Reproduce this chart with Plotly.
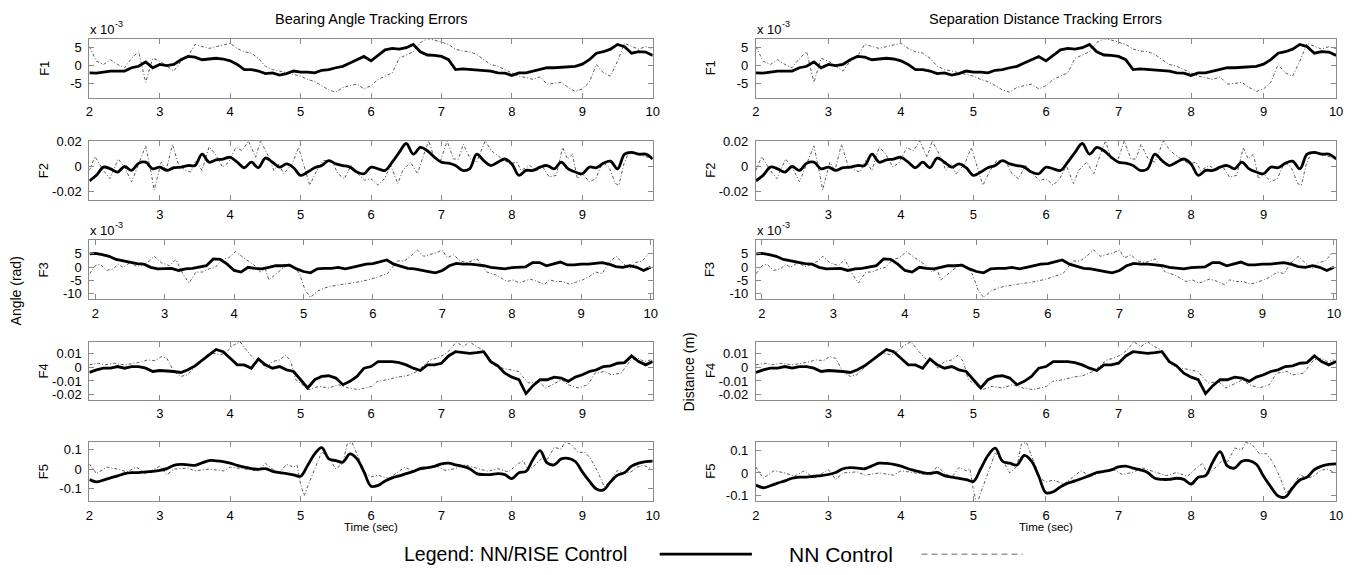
import plotly.graph_objects as go

# window is 1364x575; the page body has an 8px default margin, so the figure is drawn 8px in
W, H = 1364, 575
OFF = 8
FW, FH = W - 2 * OFF, H - 2 * OFF

# ---------------- data ----------------
# regular reading grid, seconds
GRID = [round(2.0 + 0.1 * i, 1) for i in range(81)]

# F1 (units of 1e-3 rad / m)
F1_RISE = [-2.0, -2.1, -1.8, -1.5, -1.5, -1.5, -0.6, -0.2, 1.0, -0.6,
           0.3, 0.0, 0.3, 1.6, 2.5, 2.3, 1.6, 1.8, 2.0, 1.8,
           1.3, 0.3, -1.1, -1.1, -1.5, -2.2, -2.0, -2.6, -2.2, -1.5,
           -1.8, -1.8, -2.0, -1.3, -1.1, -0.6, -0.2, 0.7, 1.5, 2.5,
           1.3, 2.9, 4.3, 4.7, 4.5, 4.9, 5.8, 3.8, 2.9, 2.8,
           2.5, 1.6, -1.1, -0.9, -1.1, -1.2, -1.3, -1.5, -2.0, -2.1,
           -2.7, -2.0, -2.0, -1.5, -1.1, -0.6, -0.6, -0.4, -0.2, -0.2,
           0.4, 1.6, 3.4, 3.8, 4.5, 5.8, 5.2, 3.4, 3.8, 3.7, 2.8]
F1_NN = [5.2, 1.2, 0.3, 1.6, 0.3, -0.6, 2.0, 3.8, -4.6, 2.0,
         1.2, -0.2, -1.5, 1.2, 2.5, 5.8, 5.2, 4.7, 5.2, 5.6,
         6.1, 4.7, 3.8, 3.4, 2.0, -0.2, -1.1, -1.5, -2.0, -2.4,
         -2.9, -3.8, -4.4, -5.5, -6.7, -7.3, -6.0, -5.5, -5.1, -6.4,
         -5.5, -3.8, -2.9, -2.0, 2.0, 2.9, 3.8, 6.3, 7.4, 7.0,
         6.3, 5.8, 4.5, 4.0, 3.8, 3.1, 1.6, 0.3, -0.2, -1.1,
         -2.0, -2.9, -3.3, -3.8, -3.1, -5.1, -4.9, -4.6, -6.0, -7.1,
         -6.4, -4.6, 0.3, -2.0, -2.9, 1.2, 6.1, 5.2, 4.5, 5.2, 4.7]

# F2 (units of 0.01)
F2_RISE = [-1.17, -0.72, -0.05, -0.19, -0.45, 0.0, -0.32, 0.27, 0.35, -0.19,
           -0.05, -0.32, -0.1, -0.05, 0.08, 0.08, 1.0, 0.35, 0.53, 0.61,
           0.75, 0.35, -0.1, 0.35, -0.1, 0.69, 0.35, -0.05, 0.21, -0.1,
           -0.72, -0.45, -0.1, 0.08, 0.48, 0.21, 0.08, -0.05, -0.45, -0.59,
           -0.05, -0.19, -0.32, 0.35, 1.15, 1.87, 1.0, 1.55, 1.28, 0.75,
           0.35, 0.27, 0.08, -0.32, -0.19, 1.0, 0.48, 0.08, 0.35, 0.61,
           0.21, -0.72, -0.32, -0.32, -0.05, 0.08, -0.19, 0.35, -0.19, -0.45,
           -0.59, -0.05, -0.1, 0.27, 0.43, -0.19, 1.0, 1.15, 1.0, 1.0, 0.61]
F2_NN_T = [2.0, 2.08, 2.2, 2.29, 2.41, 2.5, 2.6, 2.71, 2.8, 2.88, 2.92, 3.02, 3.09, 3.18,
           3.27, 3.37, 3.44, 3.51, 3.6, 3.7, 3.79, 3.89, 3.98, 4.08, 4.17, 4.26, 4.36,
           4.43, 4.55, 4.62, 4.69, 4.76, 4.88, 4.97, 5.06, 5.13, 5.23, 5.32, 5.44, 5.53,
           5.62, 5.72, 5.81, 5.91, 6.0, 6.1, 6.19, 6.28, 6.38, 6.45, 6.56, 6.66, 6.75,
           6.82, 6.88, 6.98, 7.08, 7.17, 7.24, 7.31, 7.41, 7.5, 7.62, 7.71, 7.83, 7.97,
           8.07, 8.13, 8.25, 8.35, 8.44, 8.53, 8.63, 8.72, 8.79, 8.86, 8.93, 9.0, 9.1,
           9.19, 9.29, 9.38, 9.47, 9.52, 9.59, 9.66, 9.8, 9.94, 10.0]
F2_NN = [-0.32, 0.8, -0.32, -0.99, 0.61, -0.05, -1.25, 0.35, 1.68, -0.59, -1.92, 0.35, -0.32, 1.81,
         0.08, -0.32, -0.45, 0.48, -0.32, 1.6, 1.0, -0.05, 0.35, 1.55, 1.28, 2.08, 0.75,
         2.08, 0.75, -0.32, 0.21, -0.59, 0.21, 1.55, -0.19, -1.52, -0.32, 0.48, 0.48, -0.59,
         -0.99, 0.08, -0.59, -1.12, -0.99, -1.52, -0.99, 0.08, -1.39, -0.32, 0.35, -0.59, 1.0,
         2.08, 1.0, 0.35, 2.08, 0.61, 0.61, 1.81, 0.61, 0.35, 2.08, 1.28, 0.75, 0.21,
         0.35, -0.32, 0.08, -0.32, -0.05, -0.85, -0.72, 1.55, 0.61, 1.0, -0.99, -0.59, -1.25,
         -0.99, 0.35, -0.05, -1.39, -1.52, 0.21, 1.15, 1.0, 0.75, 0.61]

# F3 (units of 1e-3)
F3_RISE_T = [1.92] + GRID
F3_RISE = [5.0,
           5.2, 4.7, 4.1, 2.9, 2.3, 1.7, 1.3, 1.1, -0.1, -0.7,
           -0.7, -0.5, -1.3, -0.7, -0.5, -0.1, 0.5, 3.1, 2.9, 1.1,
           -1.3, -1.9, -0.1, -0.5, -0.7, -0.1, 0.5, 0.5, 0.7, -0.7,
           -1.7, -2.2, -0.7, -0.5, -0.5, -0.1, -0.7, -0.1, 0.5, 1.1,
           1.3, 1.9, 2.7, 1.1, 0.2, -0.5, -0.7, -1.1, -1.7, -2.2,
           -1.3, 0.5, 1.4, 1.1, 1.1, 0.8, 0.5, -0.1, -0.5, -0.7,
           -0.2, -0.1, 0.1, 1.7, 1.7, 0.5, 1.1, 1.9, 0.8, 0.8,
           1.1, 1.1, 1.4, 1.7, 1.1, 0.2, -0.1, 0.5, -0.1, -1.3, -0.1]
F3_NN_T = [1.92, 2.0, 2.07, 2.16, 2.26, 2.33, 2.4, 2.5, 2.6, 2.7, 2.78, 2.85, 2.95, 3.07,
           3.16, 3.26, 3.35, 3.45, 3.54, 3.64, 3.73, 3.83, 3.92, 4.02, 4.11, 4.2, 4.3,
           4.38, 4.45, 4.5, 4.6, 4.69, 4.78, 4.88, 4.95, 5.02, 5.1, 5.2, 5.3, 5.4, 5.54,
           5.69, 5.83, 5.97, 6.07, 6.21, 6.35, 6.45, 6.54, 6.64, 6.73, 6.83, 6.92, 7.0,
           7.07, 7.16, 7.26, 7.36, 7.5, 7.64, 7.78, 7.93, 8.02, 8.11, 8.26, 8.35, 8.47,
           8.54, 8.64, 8.73, 8.83, 8.92, 9.02, 9.11, 9.21, 9.3, 9.4, 9.5, 9.59, 9.69,
           9.78, 9.88, 9.97]
F3_NN = [-2.5, 0.5, 1.1, -1.3, -0.7, 1.1, -0.1, 1.7, 0.2, 1.1, 2.3, 4.1, 1.7, 0.5,
         2.9, -2.5, -6.1, -1.9, -1.9, -0.7, -0.1, 2.9, 3.5, 5.9, 4.1, 2.3, 0.5,
         -1.9, -0.7, -4.9, -2.5, -0.7, 1.1, -0.1, -3.1, -8.6, -11.6, -9.2, -8.0, -7.3, -6.7,
         -6.1, -5.5, -4.6, -3.7, -2.5, 2.3, 2.3, 4.1, 6.5, 4.1, 4.7, 5.5, 6.5,
         3.5, 4.7, 2.3, 1.7, 3.1, -1.9, -3.1, -5.5, -4.9, -6.1, -4.6, -5.3, -6.7,
         -4.9, -5.5, -5.5, -6.5, -5.8, -4.9, -3.7, -1.9, -2.5, 1.7, 4.1, 1.7, -0.7,
         1.7, 2.3, 5.3]

# F4 (units of 0.01)
F4_RISE = [-0.38, -0.19, -0.07, -0.07, 0.05, -0.07, 0.05, 0.05, -0.07, -0.31,
           -0.24, -0.26, -0.31, -0.38, -0.19, 0.1, 0.53, 0.89, 1.29, 1.13,
           0.65, 0.17, 0.17, -0.07, 0.6, 0.17, -0.07, 0.05, -0.19, -0.31,
           -0.91, -1.51, -0.91, -0.67, -0.62, -0.79, -1.27, -1.03, -0.67, -0.07,
           0.05, 0.41, 0.41, 0.41, 0.34, 0.17, -0.07, -0.24, 0.17, 0.17,
           0.29, 0.82, 1.13, 1.06, 1.01, 1.06, 1.13, 0.41, 0.1, -0.43,
           -0.72, -0.91, -1.92, -1.34, -0.91, -0.91, -0.72, -0.79, -1.03, -0.72,
           -0.55, -0.31, -0.19, 0.05, 0.1, 0.29, 0.34, 0.82, 0.41, 0.17, 0.41]
F4_NN_T = [2.0, 2.13, 2.22, 2.36, 2.5, 2.69, 2.83, 2.93, 3.02, 3.1, 3.2, 3.3, 3.39, 3.49,
           3.58, 3.67, 3.77, 3.86, 3.95, 4.05, 4.14, 4.23, 4.33, 4.42, 4.51, 4.6, 4.7,
           4.79, 4.86, 4.93, 5.03, 5.12, 5.26, 5.4, 5.54, 5.68, 5.82, 5.92, 6.01, 6.09,
           6.23, 6.37, 6.51, 6.65, 6.75, 6.84, 6.93, 7.03, 7.12, 7.21, 7.31, 7.4, 7.5,
           7.59, 7.68, 7.78, 7.87, 8.01, 8.1, 8.15, 8.24, 8.38, 8.48, 8.62, 8.71, 8.8,
           8.94, 9.08, 9.18, 9.32, 9.41, 9.55, 9.69, 9.79, 9.88, 9.97]
F4_NN = [0.17, 0.29, 0.17, 0.29, 0.17, 0.34, 0.53, 0.48, 0.77, 0.65, -0.31, -0.67, -0.55, -0.07,
         0.41, 0.89, 1.01, 0.89, 1.13, 1.61, 1.85, 1.25, 0.65, 0.41, -0.07, 0.41, 0.53,
         0.89, 0.41, -0.91, -1.27, -1.63, -1.39, -1.51, -1.27, -1.51, -1.63, -1.51, -1.39, -1.03,
         -0.91, -0.72, -0.62, -0.31, 0.17, 0.53, 0.65, 0.89, 1.25, 1.85, 1.49, 1.85, 1.49,
         1.25, 0.41, 0.05, -0.07, -0.19, -0.31, -0.67, -1.15, -1.03, -1.51, -1.15, -0.91, -1.27,
         -1.51, -1.27, -0.43, -0.31, -0.55, -0.43, 0.53, 0.65, 0.41, 0.53]

# F5 (units of 0.1)
F5_RISE = [-0.55, -0.67, -0.58, -0.46, -0.36, -0.24, -0.19, -0.19, -0.15, -0.12,
           -0.07, 0.02, 0.19, 0.24, 0.22, 0.19, 0.32, 0.44, 0.43, 0.39,
           0.31, 0.19, 0.1, 0.02, -0.02, 0.02, -0.12, -0.19, -0.24, -0.3,
           -0.38, 0.19, 0.79, 1.12, 0.53, 0.44, 0.36, 0.79, 0.53, -0.15,
           -0.9, -0.85, -0.63, -0.46, -0.36, -0.24, -0.12, 0.02, 0.07, 0.14,
           0.27, 0.31, 0.22, 0.14, 0.02, -0.24, -0.29, -0.29, -0.24, -0.29,
           -0.5, -0.19, -0.12, 0.5, 0.96, 0.32, 0.22, 0.53, 0.56, 0.39,
           -0.15, -0.63, -1.04, -1.09, -0.67, -0.32, -0.19, 0.15, 0.31, 0.39, 0.41]
F5_NN_T = [2.0, 2.1, 2.25, 2.4, 2.53, 2.67, 2.8, 3.0, 3.1, 3.2, 3.4, 3.5, 3.7, 3.9, 4.0,
           4.2, 4.4, 4.5, 4.6, 4.7, 4.8, 4.9, 4.95, 5.0, 5.05, 5.1, 5.2, 5.3, 5.4, 5.5,
           5.6, 5.66, 5.73, 5.82, 5.92, 6.0, 6.1, 6.25, 6.39, 6.48, 6.62, 6.76, 6.91,
           7.05, 7.19, 7.33, 7.52, 7.66, 7.8, 7.95, 8.09, 8.16, 8.23, 8.32, 8.42, 8.51,
           8.6, 8.7, 8.75, 8.84, 8.94, 9.04, 9.12, 9.22, 9.31, 9.41, 9.5, 9.59, 9.69,
           9.78, 9.87, 9.98]
F5_NN = [0.27, -0.24, 0.1, 0.0, -0.15, 0.1, -0.25, 0.15, -0.3, 0.0, 0.05, -0.1, 0.0, -0.1, 0.1,
         0.0, -0.1, 0.3, 0.0, -0.2, 0.25, 0.1, 0.2, -0.8, -1.4, -0.9, 0.0, 0.9, 0.6, 0.0,
         0.3, 1.3, 1.38, 0.62, -0.24, -0.41, -0.32, -0.5, -0.15, 0.1, -0.15, 0.02, 0.19,
         -0.07, 0.02, 0.22, 0.02, -0.12, 0.02, -0.15, 0.27, 0.44, -0.07, 0.19, 0.53, 0.53,
         1.13, 1.04, 1.38, 1.3, 0.87, 0.87, 0.53, -0.15, -0.92, -0.58, -0.07, -0.24, -0.15,
         0.1, 0.19, 0.02]

ROW_NAMES = ["F1", "F2", "F3", "F4", "F5"]
ROW_SCALE = [1.0, 0.01, 1.0, 0.01, 0.1]   # F1/F3 shown in units of 1e-3
ROWS = [
    (GRID, F1_RISE, GRID, F1_NN),
    (GRID, F2_RISE, F2_NN_T, F2_NN),
    (F3_RISE_T, F3_RISE, F3_NN_T, F3_NN),
    (GRID, F4_RISE, F4_NN_T, F4_NN),
    (GRID, F5_RISE, F5_NN_T, F5_NN),
]
Y_TICKS = [[-5, 0, 5], [-0.02, 0, 0.02], [-10, -5, 0, 5], [-0.02, -0.01, 0, 0.01], [-0.1, 0, 0.1]]
Y_TICKTEXT = [["-5", "0", "5"], ["-0.02", "0", "0.02"], ["-10", "-5", "0", "5"],
              ["-0.02", "-0.01", "0", "0.01"], ["-0.1", "0", "0.1"]]
Y_RANGE_L = [[-8.8, 7.4], [-0.0272, 0.0208], [-12.3, 10.2], [-0.0236, 0.0186], [-0.167, 0.141]]
Y_RANGE_R = [[-8.8, 7.4], [-0.0272, 0.0208], [-12.3, 10.2], [-0.0236, 0.0186], [-0.127, 0.14]]
X_RANGE = [[2, 10], [2, 10], [1.915, 10.03], [2, 10], [2, 10]]
X_TICKS_FULL = [2, 3, 4, 5, 6, 7, 8, 9, 10]
X_TICKS_INNER = [3, 4, 5, 6, 7, 8, 9]
X_TICKS = [X_TICKS_FULL, X_TICKS_INNER, X_TICKS_FULL, X_TICKS_INNER, X_TICKS_FULL]

TITLES = ["Bearing Angle Tracking Errors", "Separation Distance Tracking Errors"]
YLABELS = ["Angle (rad)", "Distance (m)"]

# ---------------- layout geometry (window pixels) ----------------
COLS_PX = [(86, 654), (758, 1343)]
ROWS_PX = [(33, 93), (137, 197), (238, 298), (341, 400), (443, 503)]

FONT = "Liberation Sans, Arial, sans-serif"
FRAME = "#8a8a8a"

def px(x):
    return (x - OFF) / FW

def py(y):
    return 1 - (y - OFF) / FH

fig = go.Figure()
layout = {}
k = 0
for c, (x0, x1) in enumerate(COLS_PX):
    for r, (y0, y1) in enumerate(ROWS_PX):
        k += 1
        xa = "x" if k == 1 else f"x{k}"
        ya = "y" if k == 1 else f"y{k}"
        tr, vr, tn, vn = ROWS[r]
        s = ROW_SCALE[r]
        fig.add_trace(go.Scatter(x=tn, y=[v * s for v in vn], mode="lines", xaxis=xa, yaxis=ya,
                                 line=dict(color="#5a5a5a", width=1, dash="3px,2px,1px,2px"),
                                 showlegend=False, hoverinfo="skip"))
        fig.add_trace(go.Scatter(x=tr, y=[v * s for v in vr], mode="lines", xaxis=xa, yaxis=ya,
                                 line=dict(color="black", width=2.8,
                                           shape="spline" if r in (1, 4) else "linear"),
                                 showlegend=False, hoverinfo="skip"))
        common = dict(showgrid=False, zeroline=False, showline=True, linecolor=FRAME, linewidth=1,
                      mirror="ticks", ticks="inside", ticklen=5, tickcolor=FRAME, tickwidth=1,
                      tickfont=dict(family=FONT, size=13, color="black"))
        layout["xaxis" if k == 1 else f"xaxis{k}"] = dict(
            domain=[px(x0), px(x1)], anchor=ya, range=X_RANGE[r], tickmode="array",
            tickvals=X_TICKS[r], ticktext=[str(t) for t in X_TICKS[r]], ticklabelstandoff=2, **common)
        yr = Y_RANGE_L[r] if c == 0 else Y_RANGE_R[r]
        layout["yaxis" if k == 1 else f"yaxis{k}"] = dict(
            domain=[py(y1), py(y0)], anchor=xa, range=yr, tickmode="array",
            tickvals=Y_TICKS[r], ticktext=Y_TICKTEXT[r], ticklabelstandoff=4, **common)

ann = []

def note(text, x, y, size=13, angle=0, xanchor="center"):
    ann.append(dict(text=text, x=px(x), y=py(y), xref="paper", yref="paper",
                    xanchor=xanchor, yanchor="middle", textangle=angle, showarrow=False,
                    font=dict(family=FONT, size=size, color="black")))

for c, (x0, x1) in enumerate(COLS_PX):
    cx = (x0 + x1) / 2
    note(TITLES[c], cx, 13, size=14.5)
    note("Time (sec)", cx, 529, size=11.5)
    for yy in (24, 228):
        note("x 10", x0 - 1, yy, xanchor="left")
        note("-3", x0 + 24, yy - 6, size=9, xanchor="left")
    for r, (y0, y1) in enumerate(ROWS_PX):
        note(ROW_NAMES[r], x0 - 46, (y0 + y1) / 2, angle=-90)
    note(YLABELS[c], x0 - 73 if c == 0 else x0 - 67, 289 if c == 0 else 372, size=14, angle=-90)

# legend row
note("Legend: NN/RISE Control", 401, 557, size=19.5, xanchor="left")
note("NN Control", 844, 557, size=21)
shapes = [
    dict(type="line", xref="paper", yref="paper", x0=px(661), x1=px(754), y0=py(557), y1=py(557),
         line=dict(color="black", width=2.8)),
    dict(type="line", xref="paper", yref="paper", x0=px(925), x1=px(1027), y0=py(557), y1=py(557),
         line=dict(color="#6a6a6a", width=1, dash="6px,4px")),
]

fig.update_layout(width=FW, height=FH, margin=dict(l=0, r=0, t=0, b=0),
                  paper_bgcolor="white", plot_bgcolor="white",
                  font=dict(family=FONT, color="black"),
                  annotations=ann, shapes=shapes, showlegend=False, **layout)
fig.write_html("out.html")
